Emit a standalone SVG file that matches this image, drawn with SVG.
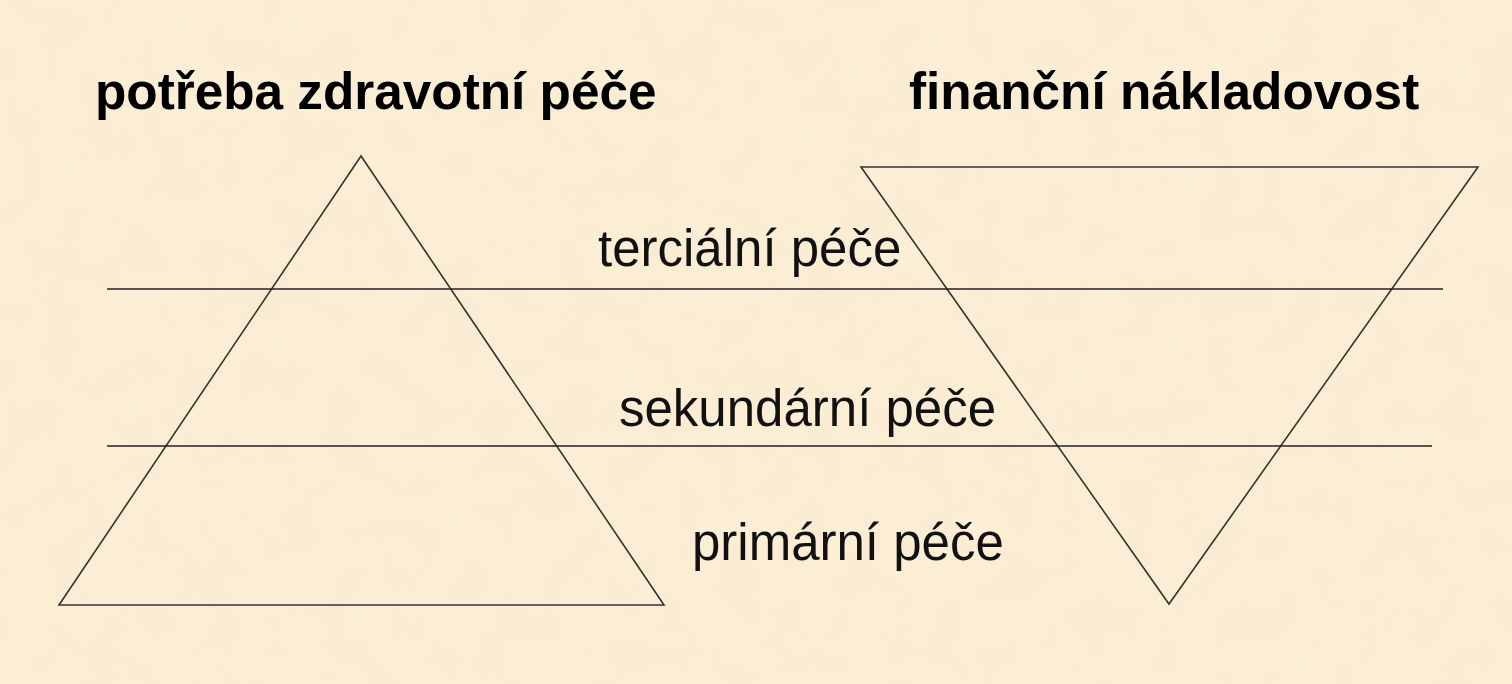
<svg xmlns="http://www.w3.org/2000/svg" width="1512" height="684" viewBox="0 0 1512 684">
  <defs>
    <filter id="parchment" x="0" y="0" width="100%" height="100%">
      <feTurbulence type="fractalNoise" baseFrequency="0.025" numOctaves="3" seed="7" result="noise"/>
      <feColorMatrix in="noise" type="matrix" values="0 0 0 0 0.82  0 0 0 0 0.71  0 0 0 0 0.52  0 0 0 0.3 -0.07" result="tint"/>
      <feComposite in="tint" in2="SourceGraphic" operator="atop"/>
    </filter>
    <style>
      .title { font-family: "Liberation Sans", Arial, sans-serif; font-size: 51.3px; font-weight: bold; fill: #000; }
      .label { font-family: "Liberation Sans", Arial, sans-serif; font-size: 51px; fill: #111; }
      .shape { fill: none; stroke: #333; stroke-width: 1.6; stroke-linejoin: miter; }
      .rule { stroke: #222; stroke-width: 1.6; }
    </style>
  </defs>
  <rect id="background" x="0" y="0" width="1512" height="684" fill="#FCEFD6"/>
  <rect x="0" y="0" width="1512" height="684" fill="#FCEFD6" filter="url(#parchment)"/>

  <g id="title-left"><text class="title" x="95" y="109">potřeba zdravotní péče</text></g>
  <g id="title-right"><text class="title" x="909" y="109">finanční nákladovost</text></g>

  <g id="pyramid"><polygon class="shape" points="361,156 59,605 664,605"/></g>
  <g id="inverted-pyramid"><polygon class="shape" points="861,167 1478,167 1169,604"/></g>

  <g id="connectors">
    <line class="rule" x1="107" y1="289" x2="1443" y2="289"/>
    <line class="rule" x1="107" y1="446" x2="1432" y2="446"/>
  </g>

  <g id="tertiary"><text class="label" x="598" y="266">terciální péče</text></g>
  <g id="secondary"><text class="label" x="619" y="426">sekundární péče</text></g>
  <g id="primary"><text class="label" x="692" y="560">primární péče</text></g>
</svg>
